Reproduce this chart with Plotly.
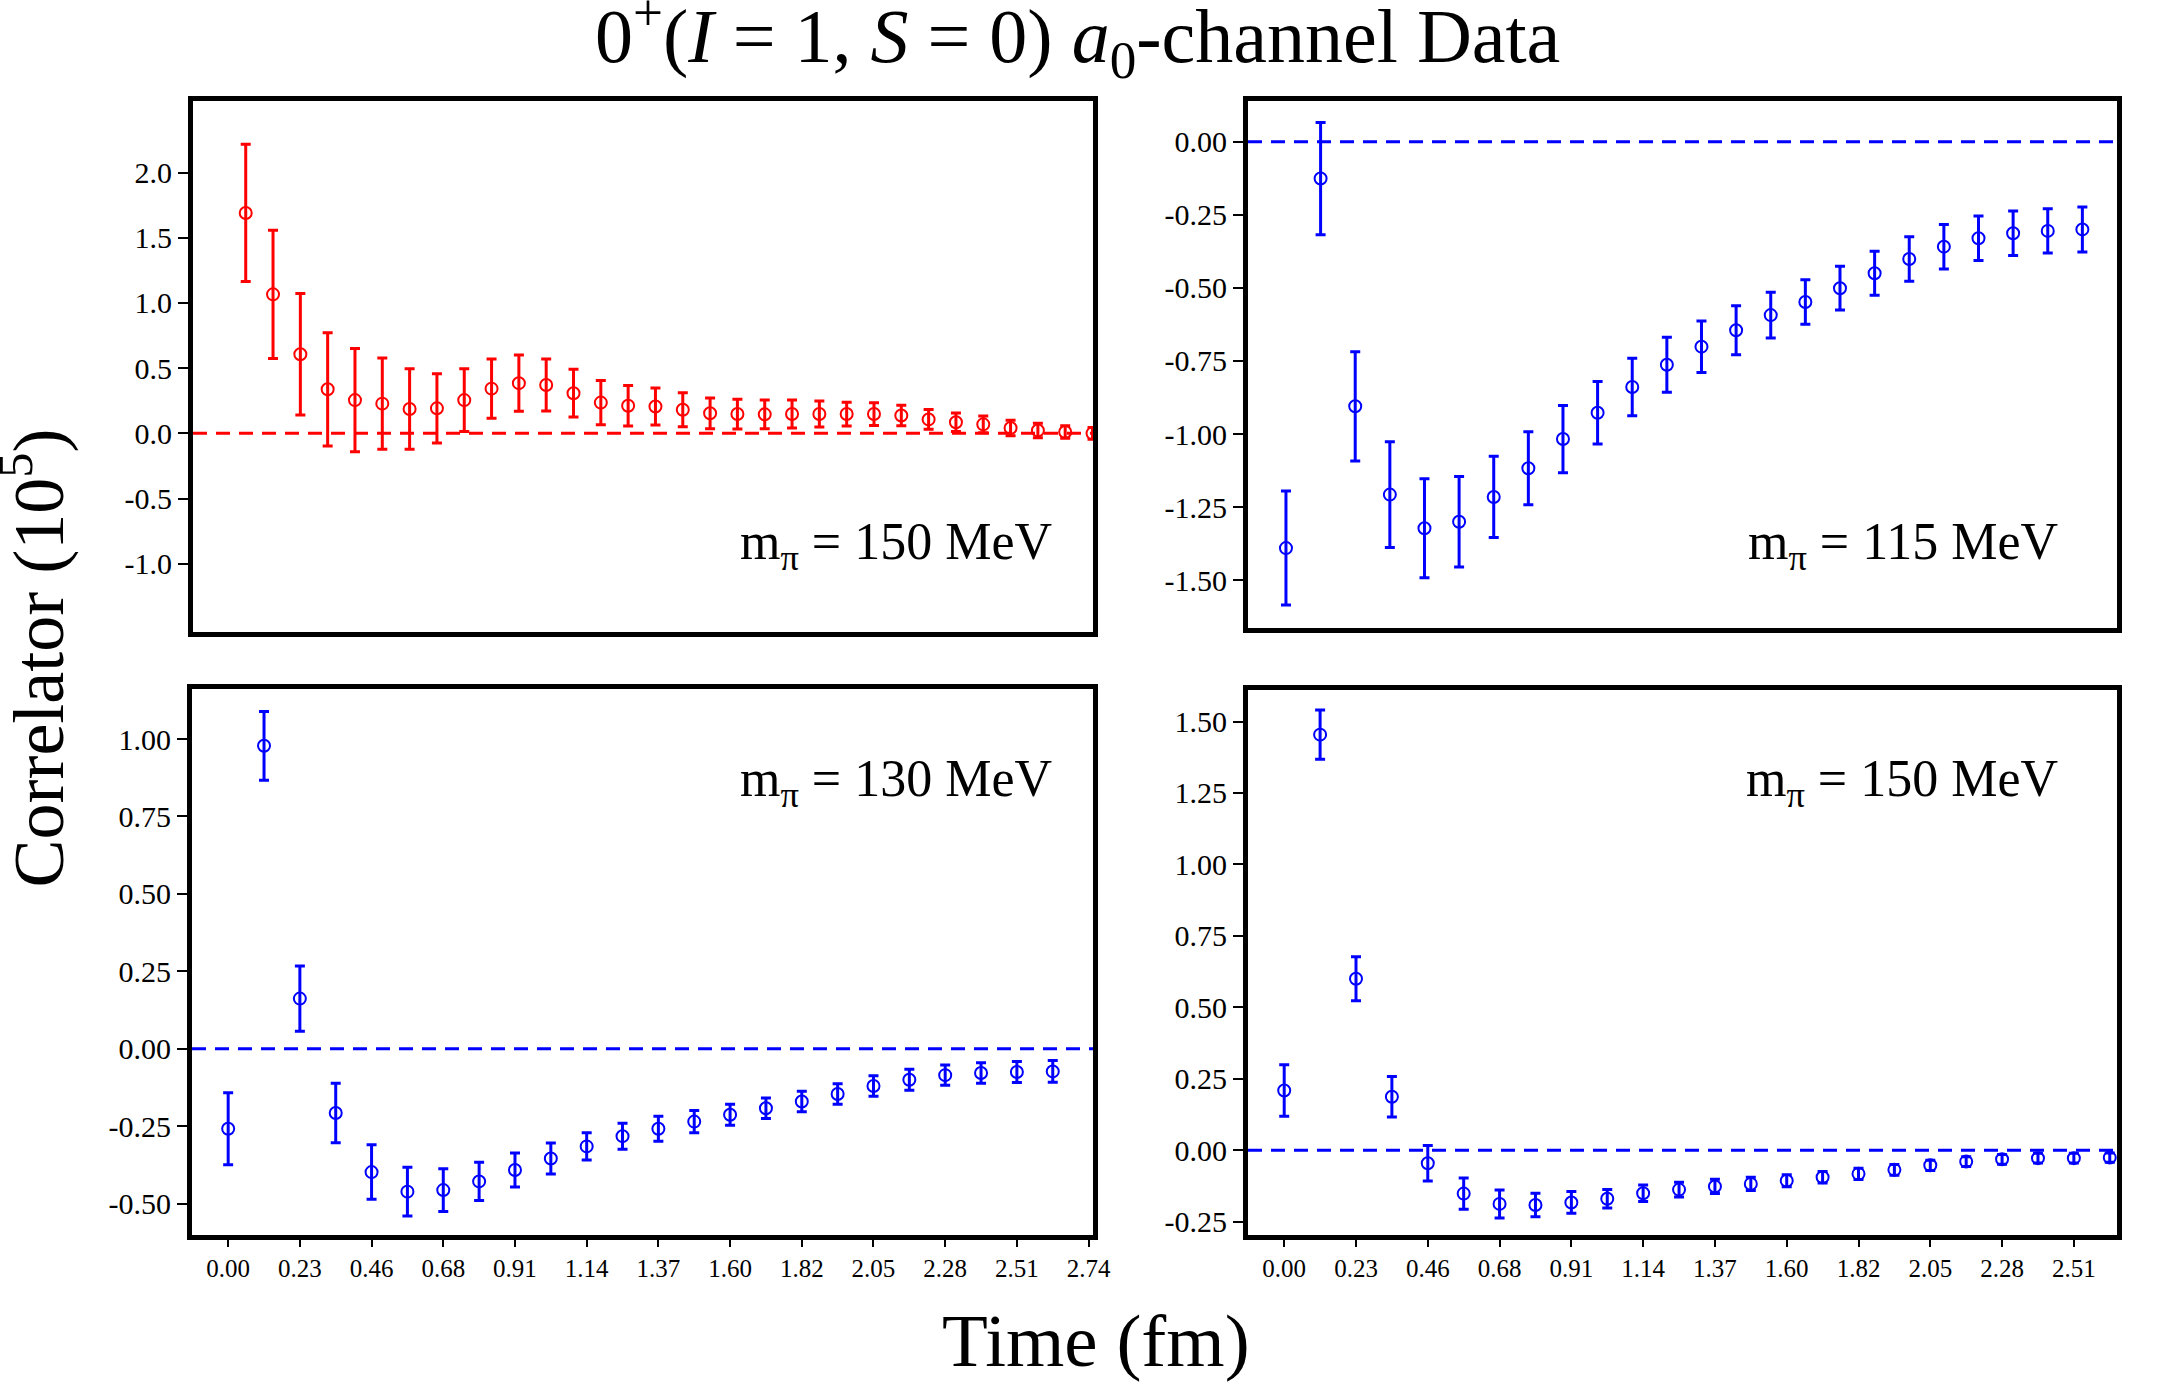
import plotly.graph_objects as go

# ---------------- data ----------------
TIME_FM = [0.000, 0.114, 0.228, 0.342, 0.456, 0.570, 0.684, 0.798, 0.912, 1.026,
           1.140, 1.254, 1.368, 1.482, 1.596, 1.710, 1.824, 1.938, 2.052, 2.166,
           2.280, 2.394, 2.508, 2.622]
TIME_TL = [0.000, 0.114, 0.228, 0.342, 0.456, 0.570, 0.684, 0.798, 0.912, 1.026,
           1.140, 1.254, 1.368, 1.482, 1.596, 1.710, 1.824, 1.938, 2.052, 2.166,
           2.280, 2.394, 2.508, 2.622, 2.736, 2.850, 2.964, 3.078, 3.192, 3.306,
           3.420, 3.534]

TL_VAL = [1.690, 1.066, 0.607, 0.338, 0.255, 0.228, 0.187, 0.192, 0.255, 0.343,
          0.385, 0.371, 0.308, 0.236, 0.212, 0.206, 0.181, 0.154, 0.148, 0.146,
          0.148, 0.148, 0.148, 0.148, 0.137, 0.107, 0.085, 0.069, 0.041, 0.022,
          0.011, 0.000]
TL_ERR = [0.526, 0.492, 0.466, 0.434, 0.396, 0.350, 0.308, 0.265, 0.240, 0.227,
          0.216, 0.199, 0.183, 0.169, 0.155, 0.141, 0.130, 0.118, 0.114, 0.110,
          0.107, 0.100, 0.091, 0.087, 0.078, 0.076, 0.071, 0.065, 0.059, 0.055,
          0.048, 0.045]

TR_VAL = [-1.390, -0.126, -0.905, -1.207, -1.322, -1.300, -1.215, -1.117, -1.017, -0.927,
          -0.839, -0.763, -0.701, -0.645, -0.593, -0.548, -0.501, -0.450, -0.401, -0.359,
          -0.330, -0.313, -0.305, -0.300]
TR_ERR = [0.195, 0.192, 0.187, 0.181, 0.169, 0.155, 0.139, 0.125, 0.115, 0.107,
          0.098, 0.094, 0.088, 0.084, 0.078, 0.076, 0.075, 0.075, 0.076, 0.076,
          0.076, 0.076, 0.076, 0.077]

BL_VAL = [-0.258, 0.978, 0.162, -0.207, -0.398, -0.461, -0.456, -0.428, -0.391, -0.354,
          -0.315, -0.282, -0.258, -0.235, -0.213, -0.192, -0.170, -0.146, -0.120, -0.100,
          -0.085, -0.078, -0.075, -0.073]
BL_ERR = [0.116, 0.111, 0.105, 0.096, 0.088, 0.079, 0.069, 0.062, 0.055, 0.050,
          0.044, 0.042, 0.040, 0.036, 0.034, 0.033, 0.033, 0.033, 0.033, 0.034,
          0.033, 0.033, 0.034, 0.035]

BR_VAL = [0.209, 1.454, 0.600, 0.187, -0.046, -0.152, -0.188, -0.192, -0.183, -0.170,
          -0.151, -0.138, -0.127, -0.118, -0.107, -0.095, -0.083, -0.069, -0.053, -0.040,
          -0.032, -0.028, -0.028, -0.026]
BR_ERR = [0.090, 0.086, 0.077, 0.071, 0.062, 0.055, 0.049, 0.041, 0.038, 0.032,
          0.029, 0.026, 0.025, 0.023, 0.021, 0.020, 0.020, 0.019, 0.018, 0.017,
          0.017, 0.017, 0.017, 0.016]

X_TICK_VALS = [0.000, 0.228, 0.456, 0.684, 0.912, 1.140, 1.368, 1.596, 1.824, 2.052,
               2.280, 2.508, 2.736]
X_TICK_LABELS = ["0.00", "0.23", "0.46", "0.68", "0.91", "1.14", "1.37", "1.60",
                 "1.82", "2.05", "2.28", "2.51", "2.74"]

TL_YTICKS = [2.0, 1.5, 1.0, 0.5, 0.0, -0.5, -1.0]
TL_YLABELS = ["2.0", "1.5", "1.0", "0.5", "0.0", "-0.5", "-1.0"]
TR_YTICKS = [0.0, -0.25, -0.5, -0.75, -1.0, -1.25, -1.5]
TR_YLABELS = ["0.00", "-0.25", "-0.50", "-0.75", "-1.00", "-1.25", "-1.50"]
BL_YTICKS = [1.0, 0.75, 0.5, 0.25, 0.0, -0.25, -0.5]
BL_YLABELS = ["1.00", "0.75", "0.50", "0.25", "0.00", "-0.25", "-0.50"]
BR_YTICKS = [1.5, 1.25, 1.0, 0.75, 0.5, 0.25, 0.0, -0.25]
BR_YLABELS = ["1.50", "1.25", "1.00", "0.75", "0.50", "0.25", "0.00", "-0.25"]

PANEL_LABELS = ["m<sub>π</sub> = 150 MeV", "m<sub>π</sub> = 115 MeV",
                "m<sub>π</sub> = 130 MeV", "m<sub>π</sub> = 150 MeV"]

RED = "#ff0000"
BLUE = "#0000ff"
REF_W, W, H = 2168, 2188, 1384
FONT = "Liberation Serif"

fig = go.Figure()


def add_series(x, y, e, color, xa, ya):
    fig.add_trace(go.Scatter(
        x=x, y=y, mode="markers", xaxis=xa, yaxis=ya, showlegend=False,
        marker=dict(symbol="circle-open", size=12, color=color, line=dict(width=2, color=color)),
        error_y=dict(type="data", array=e, visible=True, color=color, thickness=3, width=5),
    ))


add_series(TIME_TL, TL_VAL, TL_ERR, RED, "x", "y")
add_series(TIME_FM, TR_VAL, TR_ERR, BLUE, "x2", "y2")
add_series(TIME_FM, BL_VAL, BL_ERR, BLUE, "x3", "y3")
add_series(TIME_FM, BR_VAL, BR_ERR, BLUE, "x4", "y4")


def px_x(p):
    return p / REF_W


def px_y(p):
    return 1 - p / H


panels = {
    "1": (193, 1093, 101, 633),
    "2": (1248, 2117, 101, 629),
    "3": (192, 1093, 690, 1238),
    "4": (1248, 2117, 691, 1238),
}
xranges = {"1": [-0.220, 3.536], "2": [-0.125, 2.736], "3": [-0.115, 2.75], "4": [-0.115, 2.645]}
yranges = {"1": [-1.52, 2.55], "2": [-1.662, 0.140], "3": [-0.602, 1.163], "4": [-0.298, 1.612]}
yticks = {"1": (TL_YTICKS, TL_YLABELS), "2": (TR_YTICKS, TR_YLABELS),
          "3": (BL_YTICKS, BL_YLABELS), "4": (BR_YTICKS, BR_YLABELS)}

layout = {}
for k, (l, r, t, b) in panels.items():
    xn = "xaxis" if k == "1" else f"xaxis{k}"
    yn = "yaxis" if k == "1" else f"yaxis{k}"
    ya_ref = "y" if k == "1" else f"y{k}"
    xa_ref = "x" if k == "1" else f"x{k}"
    show_x = k in ("3", "4")
    layout[xn] = dict(
        domain=[px_x(l), px_x(r)], range=xranges[k], anchor=ya_ref,
        showgrid=False, zeroline=False, showline=True, mirror=True,
        linecolor="black", linewidth=5,
        ticks="outside" if show_x else "", ticklen=7, tickwidth=2, tickcolor="black",
        tickvals=X_TICK_VALS if show_x else None, ticktext=X_TICK_LABELS if show_x else None,
        showticklabels=show_x,
        tickfont=dict(family=FONT, size=25, color="black"),
    )
    tv, tt = yticks[k]
    layout[yn] = dict(
        domain=[px_y(b), px_y(t)], range=yranges[k], anchor=xa_ref,
        showgrid=False, zeroline=False, showline=True, mirror=True,
        linecolor="black", linewidth=5,
        ticks="outside", ticklen=10, tickwidth=2, tickcolor="black",
        tickvals=tv, ticktext=tt,
        tickfont=dict(family=FONT, size=30, color="black"),
    )

fig.update_layout(**layout)

zero_colors = {"1": RED, "2": BLUE, "3": BLUE, "4": BLUE}
for k in panels:
    xa_ref = "x" if k == "1" else f"x{k}"
    ya_ref = "y" if k == "1" else f"y{k}"
    fig.add_shape(type="line", xref=f"{xa_ref} domain", yref=ya_ref,
                  x0=0, x1=1, y0=0, y1=0, layer="below",
                  line=dict(color=zero_colors[k], width=3, dash="14px,9px"))

annotations = []
label_pos = [(1054, 547), (2060, 547), (1054, 784), (2060, 784)]
for txt, (xp, yp) in zip(PANEL_LABELS, label_pos):
    annotations.append(dict(text=txt, x=px_x(xp), y=px_y(yp), xref="paper", yref="paper",
                            xanchor="right", yanchor="middle", showarrow=False,
                            font=dict(family=FONT, size=52, color="black")))
annotations.append(dict(
    text="0<sup>+</sup>(<i>I</i> = 1, <i>S</i> = 0) <i>a</i><sub>0</sub>-channel Data",
    x=px_x(1077), y=px_y(37), xref="paper", yref="paper", xanchor="center", yanchor="middle",
    showarrow=False, font=dict(family=FONT, size=76, color="black")))
annotations.append(dict(text="Time (fm)", x=px_x(1096), y=px_y(1343), xref="paper", yref="paper",
                        xanchor="center", yanchor="middle", showarrow=False,
                        font=dict(family=FONT, size=75, color="black")))
annotations.append(dict(text="Correlator (10<sup>5</sup>)", x=px_x(33), y=px_y(660),
                        xref="paper", yref="paper", xanchor="center", yanchor="middle",
                        textangle=-90, showarrow=False,
                        font=dict(family=FONT, size=72, color="black")))

fig.update_layout(
    width=W, height=H, margin=dict(l=0, r=W - REF_W, t=0, b=0),
    paper_bgcolor="white", plot_bgcolor="white",
    annotations=annotations, showlegend=False,
)

fig.write_html("out.html")
